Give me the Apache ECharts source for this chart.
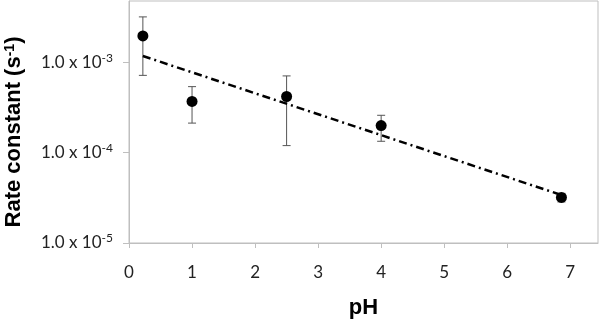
<!DOCTYPE html>
<html>
<head>
<meta charset="utf-8">
<script src="https://cdn.jsdelivr.net/npm/echarts@6/dist/echarts.min.js"></script>
<style>
  html, body { margin: 0; padding: 0; background: #fff; }
  #chart { width: 600px; height: 320px; }
</style>
</head>
<body>
<div id="chart"></div>
<script>
// measured points (pH vs rate constant), with error bar bounds
const phValues = [0.22, 1.0, 2.5, 4.0, 6.86]
const rateValues = [1.97e-3, 3.7e-4, 4.2e-4, 2.0e-4, 3.2e-5]
const rateLow = [7.2e-4, 2.13e-4, 1.2e-4, 1.34e-4, 2.85e-5]
const rateHigh = [3.2e-3, 5.4e-4, 7.1e-4, 2.6e-4, 3.55e-5]

// trend line end points
const trendPh = [0.22, 6.86]
const trendRate = [1.18e-3, 3.4e-5]

const axisGray = "#bfbfbf"

var myChart = echarts.init(document.getElementById("chart"))

var option = {
    backgroundColor: "#fff",
    animation: false,
    grid: {
        show: true,
        left: 129,
        top: 1,
        right: 2,
        bottom: 77,
        outerBoundsMode: "none",
        containLabel: false,
        borderColor: axisGray,
        borderWidth: 1,
    },
    xAxis: {
        type: "value",
        min: 0,
        max: 7.44,
        interval: 1,
        name: "pH",
        nameLocation: "middle",
        nameGap: 54,
        nameTextStyle: {
            fontFamily: "Liberation Sans",
            fontWeight: "bold",
            fontSize: 22,
            color: "#000",
        },
        axisLine: { lineStyle: { color: axisGray } },
        axisTick: { length: 5, lineStyle: { color: axisGray } },
        splitLine: { show: false },
        axisLabel: {
            showMaxLabel: false,
            margin: 21,
            fontFamily: "Lato",
            fontSize: 17,
            color: "#222",
        },
    },
    yAxis: {
        type: "log",
        logBase: 10,
        min: 1e-5,
        max: 4.8e-3,
        name: "Rate constant (s{e|-1})",
        nameLocation: "middle",
        nameGap: 104,
        nameTextStyle: {
            fontFamily: "Liberation Sans",
            fontWeight: "bold",
            fontSize: 22,
            color: "#000",
            padding: [0, 20, 0, 0],
            rich: {
                e: {
                    fontFamily: "Liberation Sans",
                    fontSize: 14,
                    color: "#000",
                    verticalAlign: "top",
                },
            },
        },
        axisLine: { show: true, lineStyle: { color: axisGray } },
        axisTick: { show: true, length: 6, lineStyle: { color: axisGray } },
        splitLine: { show: false },
        minorTick: { show: false },
        axisLabel: {
            showMaxLabel: false,
            margin: 16,
            formatter: v => "{a|1.0 x 10}{e|" + Math.round(Math.log10(v)) + "}",
            rich: {
                a: {
                    fontFamily: "Lato",
                    fontSize: 17,
                    color: "#222",
                    lineHeight: 21,
                },
                e: {
                    fontFamily: "Lato",
                    fontSize: 12,
                    color: "#222",
                    verticalAlign: "top",
                },
            },
        },
    },
    series: [
        {
            // error bars
            type: "custom",
            z: 1,
            data: phValues.map((x, i) => [x, rateLow[i], rateHigh[i]]),
            renderItem: (params, api) => {
                const lo = api.coord([api.value(0), api.value(1)])
                const hi = api.coord([api.value(0), api.value(2)])
                const cap = 4
                const style = { stroke: "#555", lineWidth: 1 }
                return {
                    type: "group",
                    children: [
                        { type: "line", shape: { x1: lo[0], y1: lo[1], x2: hi[0], y2: hi[1] }, style: style },
                        { type: "line", shape: { x1: lo[0] - cap, y1: lo[1], x2: lo[0] + cap, y2: lo[1] }, style: style },
                        { type: "line", shape: { x1: hi[0] - cap, y1: hi[1], x2: hi[0] + cap, y2: hi[1] }, style: style },
                    ],
                }
            },
        },
        {
            type: "scatter",
            z: 3,
            symbol: "circle",
            symbolSize: 11,
            itemStyle: { color: "#000", opacity: 1 },
            data: phValues.map((x, i) => [x, rateValues[i]]),
        },
        {
            // trend line
            type: "line",
            z: 4,
            showSymbol: false,
            lineStyle: {
                color: "#000",
                width: 2.5,
                type: [8, 4, 2, 4],
            },
            data: trendPh.map((x, i) => [x, trendRate[i]]),
        },
    ],
}

myChart.setOption(option, true)
</script>
</body>
</html>
